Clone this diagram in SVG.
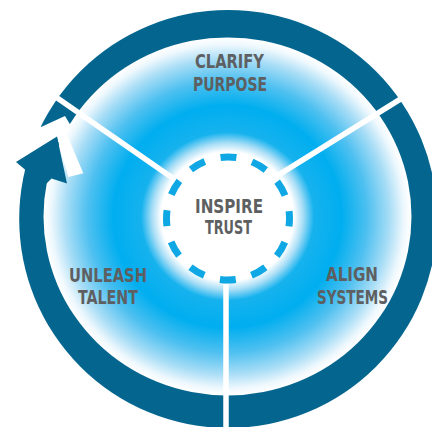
<svg xmlns="http://www.w3.org/2000/svg" width="432" height="427" viewBox="0 0 432 427">
  <defs>
    <radialGradient id="glow" cx="0.5" cy="0.5" r="0.5">
      <stop offset="0" stop-color="#ffffff"/>
      <stop offset="0.36" stop-color="#ffffff"/>
      <stop offset="0.41" stop-color="#a9def6"/>
      <stop offset="0.47" stop-color="#16b2ee"/>
      <stop offset="0.62" stop-color="#00aeef"/>
      <stop offset="0.76" stop-color="#4ec0f0"/>
      <stop offset="0.88" stop-color="#a8ddf6"/>
      <stop offset="0.96" stop-color="#eef8fd"/>
      <stop offset="1" stop-color="#ffffff"/>
    </radialGradient>
    <style>
      .dark { fill: #04668f; }
      .gap { fill: #ffffff; }
      .divider { stroke: #ffffff; stroke-width: 5.5; fill: none; }
      .label { font-family: "DejaVu Sans Condensed", "Liberation Sans Narrow", "Liberation Sans", sans-serif; font-weight: bold; font-size: 19px; fill: #5e5f61; text-anchor: middle; }
    </style>
  </defs>

  <g id="cycle-ring">
    <circle class="dark" cx="228.2" cy="219" r="209"/>
    <ellipse cx="227.5" cy="216.4" rx="184" ry="179" fill="url(#glow)"/>
    <polygon class="gap" points="20,105 41,127 65,116 71,126 67,134 57,138 16,162 0,168 0,108"/>
    <polygon class="gap" points="56.5,136 66,132.5 83.3,173.3 68.3,177"/>
    <polygon class="dark" points="57,136.5 16,162 25.5,170 40,190 51.5,178.5 67,183.5"/>
  </g>

  <g id="dividers">
    <line class="divider" x1="174" y1="179" x2="40" y2="86"/>
    <line class="divider" x1="278.3" y1="175.2" x2="429.7" y2="80.8"/>
    <line class="divider" x1="226" y1="284" x2="226" y2="430"/>
  </g>

  <g id="inspire-trust">
    <circle cx="228" cy="218.5" r="61.5" fill="none" stroke="#0fa8e4" stroke-width="7" stroke-dasharray="16 16.2" stroke-dashoffset="8"/>
    <text class="label" x="229" y="212.7" textLength="68" lengthAdjust="spacingAndGlyphs">INSPIRE</text>
    <text class="label" x="228.5" y="234.3" textLength="47" lengthAdjust="spacingAndGlyphs">TRUST</text>
  </g>

  <g id="clarify-purpose">
    <text class="label" x="229.5" y="68.3" textLength="69" lengthAdjust="spacingAndGlyphs">CLARIFY</text>
    <text class="label" x="230" y="90.7" textLength="74" lengthAdjust="spacingAndGlyphs">PURPOSE</text>
  </g>

  <g id="unleash-talent">
    <text class="label" x="108" y="282.3" textLength="78" lengthAdjust="spacingAndGlyphs">UNLEASH</text>
    <text class="label" x="108" y="304" textLength="60" lengthAdjust="spacingAndGlyphs">TALENT</text>
  </g>

  <g id="align-systems">
    <text class="label" x="352" y="281" textLength="52" lengthAdjust="spacingAndGlyphs">ALIGN</text>
    <text class="label" x="352.5" y="304" textLength="71" lengthAdjust="spacingAndGlyphs">SYSTEMS</text>
  </g>
</svg>
